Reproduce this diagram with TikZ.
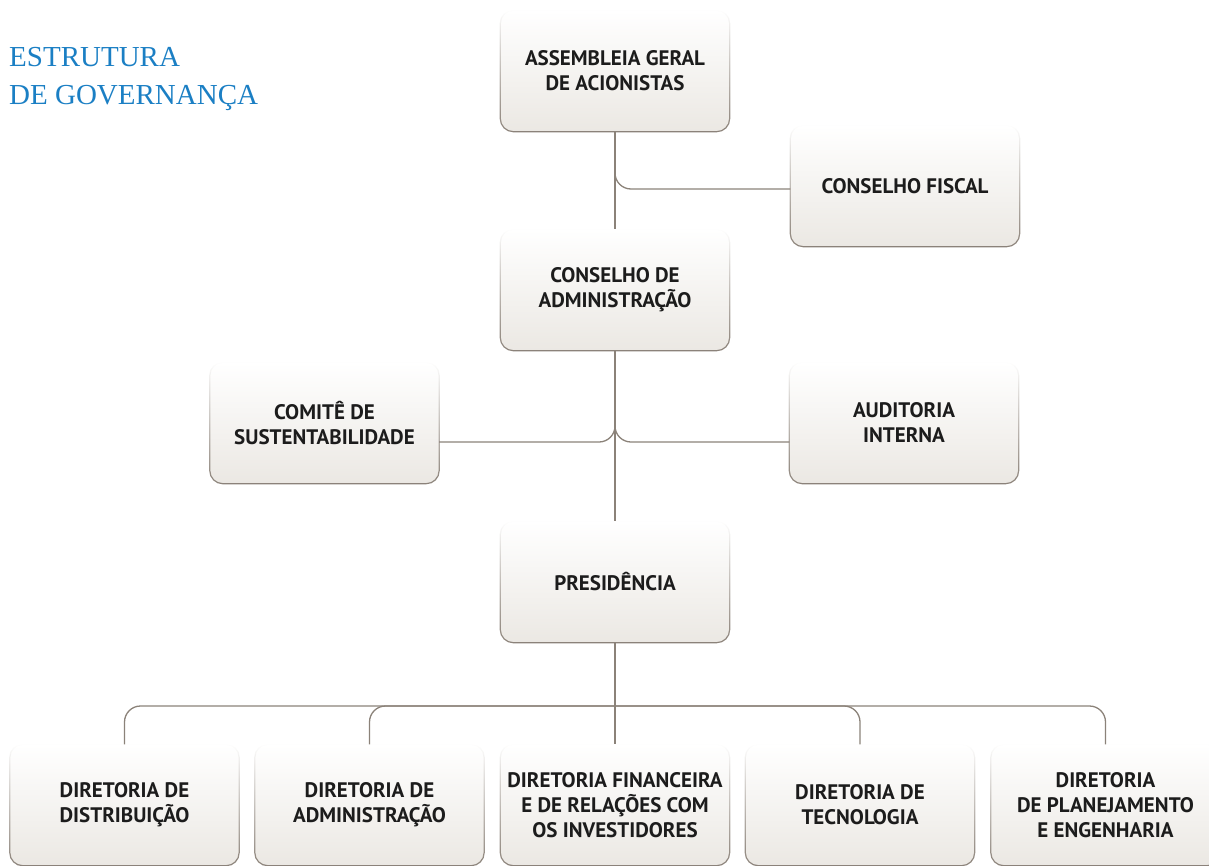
\documentclass[tikz,border=0pt]{standalone}
\usepackage{fontspec}
\setmainfont{PT Sans}
\newfontfamily\titlefont{Liberation Serif}
\usetikzlibrary{fadings}
\definecolor{boxbot}{HTML}{EBE8E3}
\definecolor{linec}{HTML}{8B8279}
\definecolor{titleblue}{HTML}{1B7FC4}
\definecolor{txt}{HTML}{1C1C1C}
\tikzset{
  orgbox/.style={minimum width=229pt, minimum height=121pt, inner sep=0pt,
    rounded corners=13pt, top color=white, bottom color=boxbot, align=center,
    text=txt, font=\fontsize{21}{25}\selectfont\bfseries},
  edgefade/.style={draw=linec, line width=1.2pt, rounded corners=13pt, path fading=north},
  conn/.style={draw=linec, line width=1.3pt, rounded corners=16pt},
}
\begin{document}
\begin{tikzpicture}[x=1pt,y=-1pt]
\useasboundingbox (0,0) rectangle (1209,865);
% title
\node[anchor=base west, inner sep=0pt, text=titleblue, font=\titlefont\fontsize{29}{38}\selectfont] (t1) at (9,66) {ESTRUTURA};
\node[anchor=base west, inner sep=0pt, text=titleblue, font=\titlefont\fontsize{29}{38}\selectfont] (t2) at (9,104) {DE GOVERNANÇA};
% boxes
\node[orgbox] (ag) at (615,71) {ASSEMBLEIA GERAL\\DE ACIONISTAS};
\node[orgbox] (cf) at (905,186) {CONSELHO FISCAL};
\node[orgbox] (ca) at (615,290) {CONSELHO DE\\ADMINISTRAÇÃO};
\node[orgbox] (cs) at (324.5,423) {COMITÊ DE\\SUSTENTABILIDADE};
\node[orgbox] (ai) at (904,423) {AUDITORIA\\INTERNA};
\node[orgbox] (pr) at (615,582) {PRESIDÊNCIA};
\node[orgbox] (d1) at (124.5,805) {DIRETORIA DE\\DISTRIBUIÇÃO};
\node[orgbox] (d2) at (369.5,805) {DIRETORIA DE\\ADMINISTRAÇÃO};
\node[orgbox] (d3) at (615,805) {DIRETORIA FINANCEIRA\\E DE RELAÇÕES COM\\OS INVESTIDORES};
\node[orgbox] (d4) at (860,805) {DIRETORIA DE\\TECNOLOGIA};
\node[orgbox] (d5) at (1105.5,805) {DIRETORIA\\DE PLANEJAMENTO\\E ENGENHARIA};
% faded borders
\foreach \n in {ag,cf,ca,cs,ai,pr,d1,d2,d3,d4,d5}
  \path[edgefade] (\n.north west) rectangle (\n.south east);
% connectors
\coordinate (j1) at (615,160);
\coordinate (j2) at (615,410);
\coordinate (j3) at (615,706);
\draw[conn] (ag.south) -- (ca.north);
\draw[conn] (j1) |- ([yshift=-3pt]cf.west);
\draw[conn] (ca.south) -- (pr.north);
\draw[conn] (j2) |- ([yshift=-19pt]cs.east);
\draw[conn] (j2) |- ([yshift=-19pt]ai.west);
\draw[conn] (pr.south) -- (d3.north);
\draw[conn] (j3) -| (d1.north);
\draw[conn] (j3) -| (d2.north);
\draw[conn] (j3) -| (d4.north);
\draw[conn] (j3) -| (d5.north);
\end{tikzpicture}
\end{document}
